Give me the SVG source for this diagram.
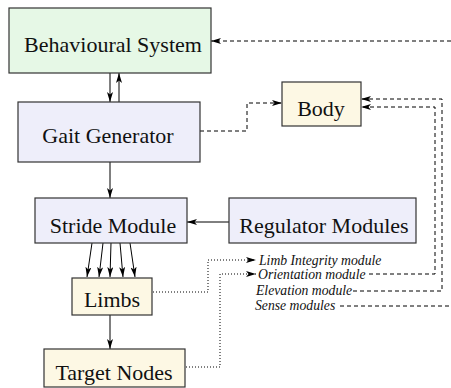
<svg xmlns="http://www.w3.org/2000/svg" width="451" height="388" viewBox="0 0 451 388">
<style>
.box{stroke:#333;stroke-width:1.2}
.g{fill:#e6f8e6}.p{fill:#eeeefa}.y{fill:#fdf8e4}
.lbl{font-size:22px;fill:#111;text-anchor:middle}
.it{font-size:13.7px;font-style:italic;fill:#111}
.s{fill:none;stroke:#000;stroke-width:1}
.d{fill:none;stroke:#000;stroke-width:1;stroke-dasharray:4,3}
.o{fill:none;stroke:#000;stroke-width:1;stroke-dasharray:1,2}
</style>
<defs>
<marker id="ah" viewBox="0 0 10 6" refX="10" refY="3" markerWidth="10" markerHeight="6" markerUnits="userSpaceOnUse" orient="auto">
<path d="M0,0 L10,3 L0,6 L2.5,3 Z" fill="#000"/>
</marker>
</defs>
<rect width="451" height="388" fill="#fff"/>
<g id="connectors">
<path class="s" d="M110,73 V102" marker-end="url(#ah)"/>
<path class="s" d="M119,102 V73" marker-end="url(#ah)"/>
<path class="s" d="M110,162 V198" marker-end="url(#ah)"/>
<path class="s" d="M229,222 H187" marker-end="url(#ah)"/>
<path class="s" d="M92,243 L87,277" marker-end="url(#ah)"/>
<path class="s" d="M103,243 L99,277" marker-end="url(#ah)"/>
<path class="s" d="M111,243 L110,277" marker-end="url(#ah)"/>
<path class="s" d="M120,243 L123,277" marker-end="url(#ah)"/>
<path class="s" d="M130,243 L135,277" marker-end="url(#ah)"/>
<path class="s" d="M110,315 V349" marker-end="url(#ah)"/>
<path class="d" d="M200,131 H247 V103 H282" marker-end="url(#ah)"/>
<path class="d" d="M451,41 H211" marker-end="url(#ah)"/>
<path class="d" d="M353,291 H442 V99 H361" marker-end="url(#ah)"/>
<path class="d" d="M369,274 H435 V107 H361" marker-end="url(#ah)"/>
<path class="d" d="M340,306 H451"/>
<path class="o" d="M153,292 H208 V260 H256" marker-end="url(#ah)"/>
<path class="o" d="M186,367 H220 V274 H256" marker-end="url(#ah)"/>
</g>
<g id="behavioural-system"><rect class="box g" x="9" y="8" width="202" height="65"/><text class="lbl" font-family="'Liberation Serif', 'Times New Roman', serif" x="113" y="52">Behavioural System</text></g>
<g id="gait-generator"><rect class="box p" x="18" y="102" width="182" height="60"/><text class="lbl" font-family="'Liberation Serif', 'Times New Roman', serif" x="108" y="143">Gait Generator</text></g>
<g id="body"><rect class="box y" x="282" y="82" width="79" height="44"/><text class="lbl" font-family="'Liberation Serif', 'Times New Roman', serif" x="321" y="116">Body</text></g>
<g id="stride-module"><rect class="box p" x="35" y="198" width="152" height="45"/><text class="lbl" font-family="'Liberation Serif', 'Times New Roman', serif" x="113" y="233">Stride Module</text></g>
<g id="regulator-modules"><rect class="box p" x="229" y="198" width="187" height="45"/><text class="lbl" font-family="'Liberation Serif', 'Times New Roman', serif" x="324" y="233">Regulator Modules</text></g>
<g id="limbs"><rect class="box y" x="72" y="278" width="80" height="37"/><text class="lbl" font-family="'Liberation Serif', 'Times New Roman', serif" x="112" y="307">Limbs</text></g>
<g id="target-nodes"><rect class="box y" x="44" y="349" width="141" height="38"/><text class="lbl" font-family="'Liberation Serif', 'Times New Roman', serif" x="114" y="380">Target Nodes</text></g>
<g id="labels" font-family="'Liberation Serif', 'Times New Roman', serif">
<text class="it" x="259" y="265">Limb Integrity module</text>
<text class="it" x="258" y="279">Orientation module</text>
<text class="it" x="256" y="295">Elevation module</text>
<text class="it" x="255" y="310">Sense modules</text>
</g>
</svg>
